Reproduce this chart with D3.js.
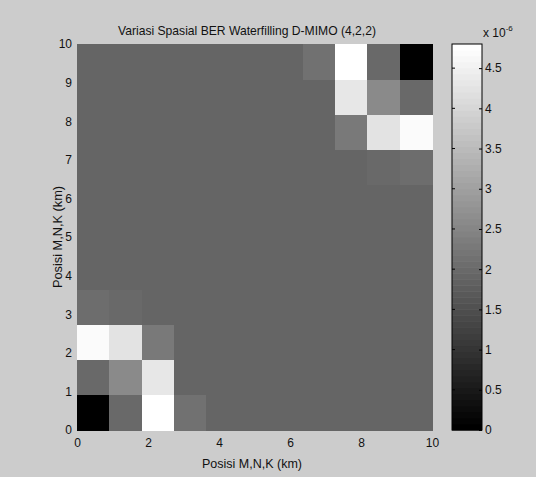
<!DOCTYPE html>
<html>
<head>
<meta charset="utf-8">
<script src="https://cdn.jsdelivr.net/npm/d3@7/dist/d3.min.js"></script>
<style>
  html, body { margin: 0; padding: 0; background: #cccccc; }
  svg { display: block; }
  text { font-family: "Liberation Sans", Arial, sans-serif; fill: #111; }
</style>
</head>
<body>
<svg id="chart" width="536" height="477"></svg>
<script>
// BER values x 1e-6, one row per y cell (row 0 = bottom, y = 0 km), 11 cells per row
const bg = 1.88
const berRows = [
  [0.00, 1.96, 4.80, 2.16, bg, bg, bg, bg, bg, bg, bg],
  [2.00, 2.60, 4.31, bg, bg, bg, bg, bg, bg, bg, bg],
  [4.71, 4.22, 2.26, bg, bg, bg, bg, bg, bg, bg, bg],
  [2.07, 2.00, bg, bg, bg, bg, bg, bg, bg, bg, bg],
  [bg, bg, bg, bg, bg, bg, bg, bg, bg, bg, bg],
  [bg, bg, bg, bg, bg, bg, bg, bg, bg, bg, bg],
  [bg, bg, bg, bg, bg, bg, bg, bg, bg, bg, bg],
  [bg, bg, bg, bg, bg, bg, bg, bg, bg, 2.00, 2.07],
  [bg, bg, bg, bg, bg, bg, bg, bg, 2.26, 4.22, 4.71],
  [bg, bg, bg, bg, bg, bg, bg, bg, 4.31, 2.60, 2.00],
  [bg, bg, bg, bg, bg, bg, bg, 2.16, 4.80, 1.96, 0.00]
]
const xTicks = [0, 2, 4, 6, 8, 10]
const yTicks = [0, 1, 2, 3, 4, 5, 6, 7, 8, 9, 10]
const cbTicks = [0, 0.5, 1, 1.5, 2, 2.5, 3, 3.5, 4, 4.5]
const cbMax = 4.8

const svg = d3.select('#chart')

const pLeft = 77, pRight = 432, pTop = 44, pBottom = 430

const x = d3.scaleLinear().domain([0, 10]).range([pLeft, pRight])
const y = d3.scaleLinear().domain([0, 10]).range([pBottom, pTop])

const col = d3.scaleBand().domain(d3.range(11)).range([pLeft, pRight])
const row = d3.scaleBand().domain(d3.range(11)).range([pBottom, pTop])

// matlab gray(64)
const grays = d3.range(64).map(i => d3.rgb(255 * i / 63, 255 * i / 63, 255 * i / 63).toString())
const color = d3.scaleQuantize().domain([0, cbMax]).range(grays)

const cells = []
berRows.forEach((r, j) => r.forEach((v, i) => cells.push({ i, j, v })))

svg.append('g')
  .selectAll('rect')
  .data(cells)
  .enter()
  .append('rect')
  .attr('x', d => col(d.i))
  .attr('y', d => row(d.j))
  .attr('width', col.bandwidth() + 0.5)
  .attr('height', row.bandwidth() + 0.5)
  .attr('fill', d => color(d.v))
  .attr('shape-rendering', 'crispEdges')

const xAxis = svg.append('g')
  .attr('transform', `translate(0,${pBottom})`)
  .call(d3.axisBottom(x).tickValues(xTicks).tickSize(0).tickPadding(8))
xAxis.select('.domain').remove()

const yAxis = svg.append('g')
  .attr('transform', `translate(${pLeft},0)`)
  .call(d3.axisLeft(y).tickValues(yTicks).tickSize(0).tickPadding(5))
yAxis.select('.domain').remove()

svg.selectAll('.tick text').style('font-size', '12px').style('fill', '#111')
  .style('font-family', null)

svg.append('text')
  .attr('x', 247).attr('y', 35)
  .attr('text-anchor', 'middle')
  .attr('textLength', 258).attr('lengthAdjust', 'spacingAndGlyphs')
  .style('font-size', '13px')
  .text('Variasi Spasial BER Waterfilling D-MIMO (4,2,2)')

svg.append('text')
  .attr('x', 252).attr('y', 468)
  .attr('text-anchor', 'middle')
  .attr('textLength', 100).attr('lengthAdjust', 'spacingAndGlyphs')
  .style('font-size', '13px')
  .text('Posisi M,N,K (km)')

svg.append('text')
  .attr('transform', `translate(62,${(pTop + pBottom) / 2}) rotate(-90)`)
  .attr('text-anchor', 'middle')
  .attr('textLength', 102).attr('lengthAdjust', 'spacingAndGlyphs')
  .style('font-size', '13px')
  .text('Posisi M,N,K (km)')

// colorbar
const cbLeft = 452, cbRight = 482
const cb = d3.scaleLinear().domain([0, cbMax]).range([pBottom, pTop])
const step = cbMax / 64

svg.append('g')
  .selectAll('rect')
  .data(d3.range(64))
  .enter()
  .append('rect')
  .attr('x', cbLeft)
  .attr('width', cbRight - cbLeft)
  .attr('y', i => cb((i + 1) * step))
  .attr('height', i => cb(i * step) - cb((i + 1) * step) + 0.5)
  .attr('fill', i => grays[i])

svg.append('rect')
  .attr('x', cbLeft).attr('y', pTop)
  .attr('width', cbRight - cbLeft).attr('height', pBottom - pTop)
  .attr('fill', 'none').attr('stroke', '#000').attr('stroke-width', 1)

const cbAxis = svg.append('g')
  .attr('transform', `translate(${cbRight},0)`)
  .call(d3.axisRight(cb).tickValues(cbTicks).tickSize(-3).tickPadding(5).tickFormat(d3.format('')))
cbAxis.select('.domain').remove()
cbAxis.selectAll('.tick line').attr('stroke', '#000')
cbAxis.selectAll('.tick text').style('font-size', '12px').attr('x', 3)

svg.append('g')
  .selectAll('line')
  .data(cbTicks.filter(d => d > 0))
  .enter()
  .append('line')
  .attr('x1', cbLeft).attr('x2', cbLeft + 3)
  .attr('y1', d => cb(d)).attr('y2', d => cb(d))
  .attr('stroke', '#000')

const expo = svg.append('text')
  .attr('x', 483).attr('y', 37)
  .style('font-size', '12px')
expo.append('tspan').text('x 10')
expo.append('tspan').attr('dy', -6).style('font-size', '8px').text('-6')
</script>
</body>
</html>
